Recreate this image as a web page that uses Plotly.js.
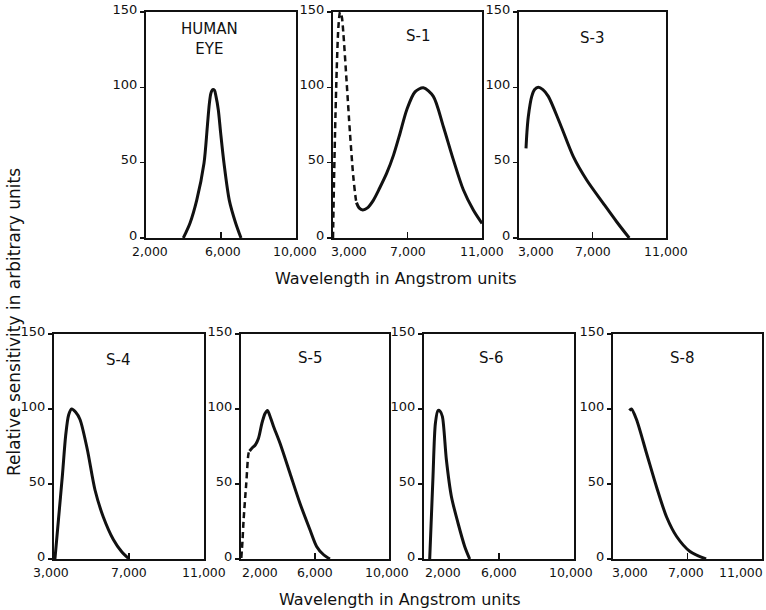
<!DOCTYPE html>
<html>
<head>
<meta charset="utf-8">
<script src="https://cdn.plot.ly/plotly-3.0.1.min.js"></script>
<style>html,body{margin:0;padding:0;background:#fff;}#chart{width:766px;height:610px;}</style>
</head>
<body>
<div id="chart"></div>
<script>
// ---------- DATA ----------
const panelNames = ["HUMAN<br>EYE", "S-1", "S-3", "S-4", "S-5", "S-6", "S-8"];

const xTicksHE = [2000, 6000, 10000];
const xLabelsHE = ["2,000", "6,000", "10,000"];
const xTicks3k = [3000, 7000, 11000];
const xLabels3k = ["3,000", "7,000", "11,000"];
const xTicks2k = [2000, 6000, 10000];
const xLabels2k = ["2,000", "6,000", "10,000"];
const yTicks = [0, 50, 100, 150];
const yLabels = ["0", "50", "100", "150"];

const xTitle = "Wavelength in Angstrom units";
const yTitle = "Relative sensitivity in arbitrary units";

const eyeX = [3990, 4350, 4703, 5093, 5271, 5377, 5460, 5556, 5650, 5733, 5857, 5984, 6160, 6443, 6780, 7067];
const eyeY = [0, 10, 25, 49.6, 74, 89, 96, 98.5, 98, 94, 85, 69.4, 49.6, 25, 10, 0];

const s1DashX = [3000, 3050, 3110, 3200, 3290, 3380, 3470, 3555, 3735, 3913, 4090, 4235, 4280];
const s1DashY = [0, 35, 70, 112, 140, 150, 147, 136, 103, 69.5, 40.7, 25, 22.5];
const s1X = [4260, 4400, 4600, 4850, 5165, 5500, 5884, 6250, 6600, 6957, 7403, 7850, 8386, 8923, 9460, 9997, 10534, 11000];
const s1Y = [23.5, 20, 18.6, 20, 25, 33, 43, 55, 69.5, 85, 97, 99.7, 94, 74, 52, 32, 18.6, 9.7];

const s3X = [3381, 3430, 3506, 3690, 3850, 4050, 4300, 4596, 5231, 5957, 6683, 7588, 8314, 9000];
const s3Y = [59.5, 70, 80.5, 93.8, 98.5, 100, 98.5, 94, 76, 54, 38.5, 23, 10.8, 0];

const s4X = [3050, 3250, 3450, 3620, 3780, 3943, 4150, 4387, 4777, 5187, 5630, 6163, 6600, 6963];
const s4Y = [0, 28, 56, 82, 96, 100, 98, 93, 73, 46, 28, 13, 5, 0.5];

const s5DashX = [2016, 2080, 2140, 2285, 2409, 2463];
const s5DashY = [0.7, 12, 26, 50.5, 70.5, 72];
const s5X = [2463, 2600, 2770, 2947, 3130, 3300, 3432, 3600, 3754, 4114, 4652, 5190, 5728, 6087, 6450, 6805];
const s5Y = [72, 74, 76, 80.5, 90.5, 97, 99, 94, 88.5, 77, 57, 37, 19.5, 8.4, 3, 0];

const s6X = [2304, 2400, 2480, 2608, 2747, 2860, 2981, 3195, 3461, 3813, 4170, 4437];
const s6Y = [0, 30, 55, 90.5, 99, 98.5, 95, 66, 41.7, 24, 8.4, 0];

const s8X = [3880, 3990, 4261, 4800, 5339, 5878, 6417, 7134, 7997];
const s8Y = [99, 100, 93, 70.5, 48, 28, 15, 5, 0];

// ---------- LAYOUT ----------
const W = 766, H = 610;
const FONT = "DejaVu Sans, Verdana, sans-serif";
const INK = "#111";

// panels: pixel boxes [left, right, top, bottom]
const panels = [
  {box: [146, 296, 12, 238], ticks: xTicksHE, labels: xLabelsHE, shift: [4, 2, -1], name: panelNames[0], nx: 5413, ny: 132},
  {box: [333, 482, 12, 238], ticks: xTicks3k, labels: xLabels3k, shift: [16, 0, 0], name: panelNames[1], nx: 7560, ny: 134},
  {box: [519, 666, 12, 238], ticks: xTicks3k, labels: xLabels3k, shift: [17, 0, 0], name: panelNames[2], nx: 6955, ny: 133},
  {box: [54, 204, 334, 559], ticks: xTicks3k, labels: xLabels3k, shift: [-3, 0, 0], name: panelNames[3], nx: 6411, ny: 133},
  {box: [241, 389, 334, 559], ticks: xTicks2k, labels: xLabels2k, shift: [19, 0, -2], name: panelNames[4], nx: 5728, ny: 134},
  {box: [424, 574, 334, 559], ticks: xTicks2k, labels: xLabels2k, shift: [19, 0, -3], name: panelNames[5], nx: 5592, ny: 134},
  {box: [613, 762, 334, 559], ticks: xTicks3k, labels: xLabels3k, shift: [17, -2, -21], name: panelNames[6], nx: 6687, ny: 134}
];

const layout = {
  width: W, height: H,
  margin: {l: 0, r: 0, t: 0, b: 0},
  paper_bgcolor: "#fff", plot_bgcolor: "#fff",
  showlegend: false,
  font: {family: FONT, color: INK, size: 13},
  annotations: []
};

panels.forEach((p, i) => {
  const n = i === 0 ? "" : String(i + 1);
  const [l, r, t, b] = p.box;
  layout["xaxis" + n] = {
    domain: [l / W, r / W],
    anchor: "y" + n,
    range: [p.ticks[0], p.ticks[p.ticks.length - 1]],
    tickvals: p.ticks,
    ticks: "inside", ticklen: 6, tickwidth: 1.5, tickcolor: INK,
    showticklabels: false,
    showgrid: false, zeroline: false,
    showline: true, mirror: true, linecolor: INK, linewidth: 2,
    fixedrange: true
  };
  layout["yaxis" + n] = {
    domain: [1 - b / H, 1 - t / H],
    anchor: "x" + n,
    range: [0, 150],
    tickvals: yTicks, ticktext: yLabels,
    ticks: "outside", ticklen: 4, tickwidth: 1.5, tickcolor: INK,
    tickfont: {family: FONT, size: 13, color: INK},
    ticklabelshift: -3,
    showgrid: false, zeroline: false,
    showline: true, mirror: true, linecolor: INK, linewidth: 2,
    fixedrange: true
  };
  // x tick labels
  p.ticks.forEach((v, k) => {
    layout.annotations.push({
      xref: "x" + n, yref: "paper",
      x: v, y: 1 - (b + 13) / H,
      xanchor: "center", yanchor: "middle",
      xshift: p.shift[k],
      text: p.labels[k], showarrow: false,
      font: {family: FONT, size: 12.5, color: INK}
    });
  });
  // panel name
  layout.annotations.push({
    xref: "x" + n, yref: "y" + n,
    x: p.nx, y: p.ny,
    xanchor: "center", yanchor: "middle",
    text: p.name, showarrow: false,
    font: {family: FONT, size: 15, color: INK}
  });
});

// axis titles
layout.annotations.push({
  xref: "paper", yref: "paper", x: 396 / W, y: 1 - 278 / H,
  xanchor: "center", yanchor: "middle", showarrow: false,
  text: xTitle, font: {family: FONT, size: 16, color: INK}
});
layout.annotations.push({
  xref: "paper", yref: "paper", x: 400 / W, y: 1 - 599 / H,
  xanchor: "center", yanchor: "middle", showarrow: false,
  text: xTitle, font: {family: FONT, size: 16, color: INK}
});
layout.annotations.push({
  xref: "paper", yref: "paper", x: 14 / W, y: 1 - 322 / H,
  xanchor: "center", yanchor: "middle", showarrow: false, textangle: -90,
  text: yTitle, font: {family: FONT, size: 17, color: INK}
});

// ---------- TRACES ----------
const solid = {color: INK, width: 3, shape: "spline", smoothing: 0.8};
const dashed = {color: INK, width: 2.5, dash: "6px,4px", shape: "spline", smoothing: 0.8};
function tr(x, y, ax, line) {
  return {x: x, y: y, xaxis: "x" + ax, yaxis: "y" + ax, mode: "lines",
          line: line, hoverinfo: "skip", cliponaxis: false};
}
const data = [
  tr(eyeX, eyeY, "", solid),
  tr(s1DashX, s1DashY, "2", dashed),
  tr(s1X, s1Y, "2", solid),
  tr(s3X, s3Y, "3", solid),
  tr(s4X, s4Y, "4", solid),
  tr(s5DashX, s5DashY, "5", dashed),
  tr(s5X, s5Y, "5", solid),
  tr(s6X, s6Y, "6", solid),
  tr(s8X, s8Y, "7", solid)
];

Plotly.newPlot("chart", data, layout, {displayModeBar: false, staticPlot: true});
</script>
</body>
</html>
